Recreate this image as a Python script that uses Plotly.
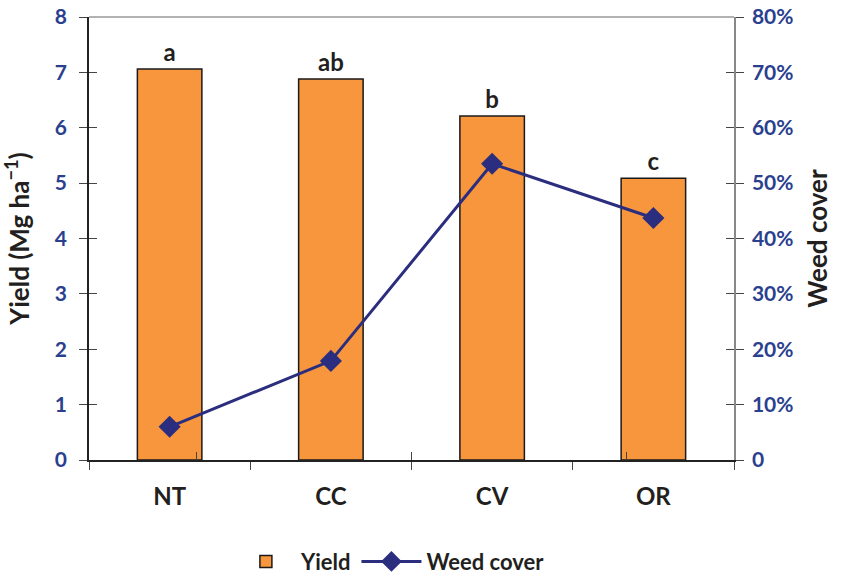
import plotly.graph_objects as go

categories = ["NT", "CC", "CV", "OR"]
yield_vals = [7.06, 6.88, 6.21, 5.09]
sig_letters = ["a", "ab", "b", "c"]
weed_cover = [0.06, 0.179, 0.535, 0.437]

left_ticks = [0, 1, 2, 3, 4, 5, 6, 7, 8]
right_ticks = [0, 0.1, 0.2, 0.3, 0.4, 0.5, 0.6, 0.7, 0.8]
right_labels = ["0", "10%", "20%", "30%", "40%", "50%", "60%", "70%", "80%"]

FONT = "Lato"
BLUE = "#2B3F8F"
DARK = "#231F20"
ORANGE = "#F7963D"
NAVY = "#2B2D7E"

fig = go.Figure()
fig.add_trace(go.Bar(
    x=categories, y=yield_vals, name="Yield", width=0.4,
    marker=dict(color=ORANGE, line=dict(color="#1a1a1a", width=1.5)),
    text=sig_letters, textposition="outside", cliponaxis=False,
    textfont=dict(family=FONT, size=24, color=DARK, weight="bold"),
    yaxis="y",
))
fig.add_trace(go.Scatter(
    x=categories, y=weed_cover, name="Weed cover", mode="lines+markers",
    line=dict(color=NAVY, width=3),
    marker=dict(symbol="diamond", size=17, color=NAVY),
    yaxis="y2",
))

axis_common = dict(showgrid=False, zeroline=False, automargin=False)
fig.update_layout(
    width=841, height=576,
    margin=dict(l=89, r=107, t=17, b=116),
    plot_bgcolor="white", paper_bgcolor="white",
    font=dict(family=FONT, color=DARK),
    bargap=0.6,
    showlegend=True,
    legend=dict(orientation="h", x=0.22, xanchor="left",
                yref="container", y=0.025, yanchor="middle",
                font=dict(family=FONT, size=22, color=DARK, weight="bold"),
                itemwidth=60, traceorder="normal"),
    xaxis=dict(**axis_common, type="category", tickson="boundaries",
               ticks="outside", ticklen=8, tickcolor="#444", showline=True,
               linecolor="#222", linewidth=1.5,
               tickfont=dict(family=FONT, size=24, color=DARK, weight="bold"),
               ticklabelstandoff=14),
    xaxis2=dict(**axis_common, type="category", overlaying="x",
                tickson="boundaries", ticks="inside", ticklen=8, tickcolor="#444",
                showticklabels=False, side="bottom", anchor="y"),
    yaxis=dict(**axis_common, range=[0, 8], tickvals=left_ticks,
               ticks="outside", ticklen=8, tickcolor="#444", showline=True,
               linecolor="#222", linewidth=1.5, ticklabeloverflow="allow",
               tickfont=dict(family=FONT, size=21, color=BLUE, weight="bold"),
               ticklabelstandoff=8,
               title=dict(text="Yield (Mg ha<sup>\u22121</sup>)",
                          font=dict(family=FONT, size=26, color=DARK, weight="bold"),
                          standoff=18)),
    yaxis2=dict(**axis_common, range=[0, 0.8], tickvals=right_ticks, ticktext=right_labels,
                overlaying="y", side="right", ticks="outside", ticklen=8,
                tickcolor="#444", showline=True, linecolor="#888", linewidth=1.5,
                ticklabeloverflow="allow",
                tickfont=dict(family=FONT, size=21, color=BLUE, weight="bold"),
                ticklabelstandoff=4,
                title=dict(text="Weed cover",
                           font=dict(family=FONT, size=26, color=DARK, weight="bold"),
                           standoff=16)),
    yaxis3=dict(**axis_common, range=[0, 8], tickvals=left_ticks, overlaying="y",
                side="left", ticks="inside", ticklen=8, tickcolor="#444",
                showticklabels=False),
    yaxis4=dict(**axis_common, range=[0, 0.8], tickvals=right_ticks, overlaying="y",
                side="right", ticks="inside", ticklen=8, tickcolor="#444",
                showticklabels=False),
    shapes=[dict(type="line", xref="paper", yref="paper", x0=0, x1=1, y0=1, y1=1,
                 line=dict(color="#999", width=1.5))],
)
# invisible helper traces so the overlay axes (inner tick halves) are drawn
fig.add_trace(go.Scatter(x=categories, y=yield_vals, mode="none", showlegend=False,
                         hoverinfo="skip", xaxis="x2", yaxis="y3"))
fig.add_trace(go.Scatter(x=categories, y=weed_cover, mode="none", showlegend=False,
                         hoverinfo="skip", xaxis="x2", yaxis="y4"))

fig.write_html("out.html", config={"displayModeBar": False},
               post_script="document.body.style.margin='0';")
